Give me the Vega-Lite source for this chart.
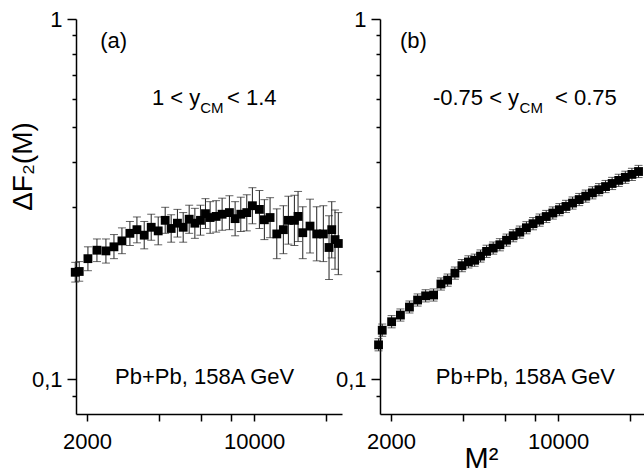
{
  "$schema": "https://vega.github.io/schema/vega-lite/v6.json",
  "padding": {"left": 9, "top": 8, "right": 0, "bottom": 0},
  "background": "white",
  "spacing": 38,
  "bounds": "flush",
  "datasets": {
    "a": [
      {"m2": 1787, "f": 0.198, "lo": 0.186, "hi": 0.211},
      {"m2": 1857, "f": 0.199, "lo": 0.187, "hi": 0.212},
      {"m2": 2019, "f": 0.216, "lo": 0.200, "hi": 0.233},
      {"m2": 2202, "f": 0.228, "lo": 0.212, "hi": 0.245},
      {"m2": 2401, "f": 0.227, "lo": 0.210, "hi": 0.245},
      {"m2": 2594, "f": 0.233, "lo": 0.216, "hi": 0.252},
      {"m2": 2801, "f": 0.242, "lo": 0.223, "hi": 0.263},
      {"m2": 3024, "f": 0.254, "lo": 0.235, "hi": 0.274},
      {"m2": 3236, "f": 0.260, "lo": 0.239, "hi": 0.282},
      {"m2": 3471, "f": 0.251, "lo": 0.230, "hi": 0.274},
      {"m2": 3713, "f": 0.264, "lo": 0.243, "hi": 0.287},
      {"m2": 3972, "f": 0.258, "lo": 0.236, "hi": 0.282},
      {"m2": 4247, "f": 0.276, "lo": 0.254, "hi": 0.300},
      {"m2": 4499, "f": 0.262, "lo": 0.240, "hi": 0.286},
      {"m2": 4779, "f": 0.271, "lo": 0.248, "hi": 0.296},
      {"m2": 5051, "f": 0.264, "lo": 0.240, "hi": 0.290},
      {"m2": 5351, "f": 0.278, "lo": 0.254, "hi": 0.304},
      {"m2": 5652, "f": 0.271, "lo": 0.246, "hi": 0.298},
      {"m2": 5965, "f": 0.276, "lo": 0.251, "hi": 0.304},
      {"m2": 6259, "f": 0.288, "lo": 0.262, "hi": 0.317},
      {"m2": 6547, "f": 0.281, "lo": 0.254, "hi": 0.311},
      {"m2": 6936, "f": 0.283, "lo": 0.256, "hi": 0.313},
      {"m2": 7348, "f": 0.287, "lo": 0.259, "hi": 0.318},
      {"m2": 7883, "f": 0.290, "lo": 0.260, "hi": 0.323},
      {"m2": 8327, "f": 0.279, "lo": 0.250, "hi": 0.311},
      {"m2": 8796, "f": 0.287, "lo": 0.257, "hi": 0.320},
      {"m2": 9318, "f": 0.290, "lo": 0.258, "hi": 0.325},
      {"m2": 9834, "f": 0.303, "lo": 0.270, "hi": 0.340},
      {"m2": 10520, "f": 0.296, "lo": 0.262, "hi": 0.334},
      {"m2": 11036, "f": 0.277, "lo": 0.244, "hi": 0.315},
      {"m2": 11658, "f": 0.281, "lo": 0.247, "hi": 0.319},
      {"m2": 12438, "f": 0.253, "lo": 0.216, "hi": 0.297},
      {"m2": 13251, "f": 0.260, "lo": 0.223, "hi": 0.303},
      {"m2": 13906, "f": 0.276, "lo": 0.237, "hi": 0.322},
      {"m2": 14732, "f": 0.276, "lo": 0.235, "hi": 0.324},
      {"m2": 15263, "f": 0.283, "lo": 0.241, "hi": 0.332},
      {"m2": 15971, "f": 0.255, "lo": 0.216, "hi": 0.301},
      {"m2": 17125, "f": 0.266, "lo": 0.224, "hi": 0.316},
      {"m2": 18267, "f": 0.253, "lo": 0.213, "hi": 0.301},
      {"m2": 19469, "f": 0.253, "lo": 0.212, "hi": 0.303},
      {"m2": 20566, "f": 0.232, "lo": 0.189, "hi": 0.284},
      {"m2": 21108, "f": 0.260, "lo": 0.217, "hi": 0.311},
      {"m2": 21786, "f": 0.244, "lo": 0.202, "hi": 0.295},
      {"m2": 22490, "f": 0.238, "lo": 0.195, "hi": 0.290}
    ],
    "b": [
      {"m2": 1775, "f": 0.1245, "lo": 0.1198, "hi": 0.1295},
      {"m2": 1839, "f": 0.1367, "lo": 0.1315, "hi": 0.1422},
      {"m2": 2013, "f": 0.1443, "lo": 0.1388, "hi": 0.1501},
      {"m2": 2191, "f": 0.1506, "lo": 0.1449, "hi": 0.1566},
      {"m2": 2390, "f": 0.1585, "lo": 0.1525, "hi": 0.1648},
      {"m2": 2585, "f": 0.1658, "lo": 0.1595, "hi": 0.1724},
      {"m2": 2793, "f": 0.1703, "lo": 0.1638, "hi": 0.1771},
      {"m2": 3015, "f": 0.1712, "lo": 0.1647, "hi": 0.1780},
      {"m2": 3236, "f": 0.1837, "lo": 0.1767, "hi": 0.1910},
      {"m2": 3451, "f": 0.1883, "lo": 0.1811, "hi": 0.1958},
      {"m2": 3702, "f": 0.1969, "lo": 0.1894, "hi": 0.2048},
      {"m2": 3960, "f": 0.2065, "lo": 0.1987, "hi": 0.2148},
      {"m2": 4216, "f": 0.2115, "lo": 0.2035, "hi": 0.2200},
      {"m2": 4477, "f": 0.2138, "lo": 0.2057, "hi": 0.2224},
      {"m2": 4738, "f": 0.2196, "lo": 0.2113, "hi": 0.2284},
      {"m2": 5022, "f": 0.2263, "lo": 0.2177, "hi": 0.2354},
      {"m2": 5351, "f": 0.2311, "lo": 0.2223, "hi": 0.2403},
      {"m2": 5707, "f": 0.2361, "lo": 0.2271, "hi": 0.2455},
      {"m2": 6086, "f": 0.2431, "lo": 0.2339, "hi": 0.2528},
      {"m2": 6487, "f": 0.2501, "lo": 0.2406, "hi": 0.2601},
      {"m2": 6915, "f": 0.2559, "lo": 0.2462, "hi": 0.2661},
      {"m2": 7369, "f": 0.2632, "lo": 0.2532, "hi": 0.2737},
      {"m2": 7853, "f": 0.2701, "lo": 0.2598, "hi": 0.2809},
      {"m2": 8367, "f": 0.2763, "lo": 0.2658, "hi": 0.2874},
      {"m2": 8917, "f": 0.2828, "lo": 0.2721, "hi": 0.2941},
      {"m2": 9500, "f": 0.2892, "lo": 0.2782, "hi": 0.3008},
      {"m2": 10124, "f": 0.2954, "lo": 0.2842, "hi": 0.3072},
      {"m2": 10785, "f": 0.3016, "lo": 0.2901, "hi": 0.3137},
      {"m2": 11489, "f": 0.3082, "lo": 0.2965, "hi": 0.3205},
      {"m2": 12247, "f": 0.3152, "lo": 0.3032, "hi": 0.3278},
      {"m2": 13047, "f": 0.3221, "lo": 0.3099, "hi": 0.3350},
      {"m2": 13906, "f": 0.3290, "lo": 0.3165, "hi": 0.3422},
      {"m2": 14816, "f": 0.3357, "lo": 0.3229, "hi": 0.3491},
      {"m2": 15785, "f": 0.3425, "lo": 0.3295, "hi": 0.3562},
      {"m2": 16817, "f": 0.3493, "lo": 0.3360, "hi": 0.3633},
      {"m2": 17920, "f": 0.3563, "lo": 0.3428, "hi": 0.3706},
      {"m2": 19095, "f": 0.3634, "lo": 0.3496, "hi": 0.3779},
      {"m2": 20348, "f": 0.3702, "lo": 0.3561, "hi": 0.3850},
      {"m2": 21684, "f": 0.3771, "lo": 0.3628, "hi": 0.3922}
    ],
    "ta_main": [
      {"m2": 2273, "f": 0.8294, "text": "(a)"},
      {"m2": 3738, "f": 0.5778, "text": "1 < y"},
      {"m2": 7700, "f": 0.5778, "text": "< 1.4"}
    ],
    "ta_sub": [{"m2": 5948, "f": 0.549, "text": "CM"}],
    "ta_note": [{"m2": 6211, "f": 0.0968, "text": "Pb+Pb, 158A GeV"}],
    "tb_main": [
      {"m2": 2181, "f": 0.8294, "text": "(b)"},
      {"m2": 2995, "f": 0.5778, "text": "-0.75 < y"},
      {"m2": 9700, "f": 0.5778, "text": "< 0.75"}
    ],
    "tb_sub": [{"m2": 6900, "f": 0.549, "text": "CM"}],
    "tb_note": [{"m2": 7292, "f": 0.0968, "text": "Pb+Pb, 158A GeV"}]
  },
  "hconcat": [
    {
      "width": 266,
      "height": 395,
      "layer": [
        {
          "data": {"name": "a"},
          "mark": {"type": "rule", "color": "#222222", "strokeWidth": 1, "clip": false},
          "encoding": {
            "x": {"field": "m2", "type": "quantitative",
              "scale": {"type": "log", "domain": [1800, 23300], "nice": false},
              "axis": {"values": [2000, 4000, 6000, 8000, 10000, 20000],
                "labelExpr": "datum.value == 2000 ? '2000' : (datum.value == 10000 ? '10000' : '')",
                "tickSize": 7, "labelPadding": 27, "labelBaseline": "alphabetic", "title": null}},
            "y": {"field": "lo", "type": "quantitative",
              "scale": {"type": "log", "domain": [0.08, 1], "nice": false},
              "axis": {"values": [0.09, 0.1, 0.2, 0.3, 0.4, 0.5, 0.6, 0.7, 0.8, 0.9, 1],
                "labelExpr": "datum.value == 1 ? '1' : (datum.value == 0.1 ? '0,1' : '')",
                "tickSize": {"condition": {"test": "datum.value == 1 || datum.value == 0.1", "value": 9}, "value": 4},
                "labelPadding": 5,
                "title": "ΔF₂(M)", "titleFontSize": 28, "titleX": -53, "titleY": 147,
                "titleAlign": "center", "titleBaseline": "middle", "titleAngle": 270}},
            "y2": {"field": "hi"}
          }
        },
        {
          "data": {"name": "a"},
          "mark": {"type": "tick", "orient": "horizontal", "size": 8, "thickness": 1, "color": "#222222", "clip": false},
          "encoding": {"x": {"field": "m2", "type": "quantitative"}, "y": {"field": "lo", "type": "quantitative"}}
        },
        {
          "data": {"name": "a"},
          "mark": {"type": "tick", "orient": "horizontal", "size": 8, "thickness": 1, "color": "#222222", "clip": false},
          "encoding": {"x": {"field": "m2", "type": "quantitative"}, "y": {"field": "hi", "type": "quantitative"}}
        },
        {
          "data": {"name": "a"},
          "mark": {"type": "point", "shape": "square", "filled": true, "size": 78, "color": "black", "opacity": 1, "clip": false},
          "encoding": {"x": {"field": "m2", "type": "quantitative"}, "y": {"field": "f", "type": "quantitative"}}
        },
        {
          "data": {"name": "ta_main"},
          "mark": {"type": "text", "fontSize": 22, "align": "left", "baseline": "alphabetic", "color": "black"},
          "encoding": {"x": {"field": "m2", "type": "quantitative"}, "y": {"field": "f", "type": "quantitative"}, "text": {"field": "text"}}
        },
        {
          "data": {"name": "ta_sub"},
          "mark": {"type": "text", "fontSize": 15, "align": "left", "baseline": "alphabetic", "color": "black"},
          "encoding": {"x": {"field": "m2", "type": "quantitative"}, "y": {"field": "f", "type": "quantitative"}, "text": {"field": "text"}}
        },
        {
          "data": {"name": "ta_note"},
          "mark": {"type": "text", "fontSize": 22, "align": "center", "baseline": "alphabetic", "color": "black"},
          "encoding": {"x": {"field": "m2", "type": "quantitative"}, "y": {"field": "f", "type": "quantitative"}, "text": {"field": "text"}}
        }
      ]
    },
    {
      "width": 266,
      "height": 395,
      "layer": [
        {
          "data": {"name": "b"},
          "mark": {"type": "rule", "color": "#222222", "strokeWidth": 1, "clip": false},
          "encoding": {
            "x": {"field": "m2", "type": "quantitative",
              "scale": {"type": "log", "domain": [1800, 23300], "nice": false},
              "axis": {"values": [2000, 4000, 6000, 8000, 10000, 20000],
                "labelExpr": "datum.value == 2000 ? '2000' : (datum.value == 10000 ? '10000' : '')",
                "tickSize": 7, "labelPadding": 27, "labelBaseline": "alphabetic",
                "title": "M²", "titleFontSize": 29, "titleX": 101, "titleY": 53,
                "titleAlign": "center", "titleBaseline": "alphabetic"}},
            "y": {"field": "lo", "type": "quantitative",
              "scale": {"type": "log", "domain": [0.08, 1], "nice": false},
              "axis": {"values": [0.09, 0.1, 0.2, 0.3, 0.4, 0.5, 0.6, 0.7, 0.8, 0.9, 1],
                "labelExpr": "datum.value == 1 ? '1' : (datum.value == 0.1 ? '0,1' : '')",
                "tickSize": {"condition": {"test": "datum.value == 1 || datum.value == 0.1", "value": 9}, "value": 4},
                "labelPadding": 5, "title": null}},
            "y2": {"field": "hi"}
          }
        },
        {
          "data": {"name": "b"},
          "mark": {"type": "tick", "orient": "horizontal", "size": 8, "thickness": 1, "color": "#222222", "clip": false},
          "encoding": {"x": {"field": "m2", "type": "quantitative"}, "y": {"field": "lo", "type": "quantitative"}}
        },
        {
          "data": {"name": "b"},
          "mark": {"type": "tick", "orient": "horizontal", "size": 8, "thickness": 1, "color": "#222222", "clip": false},
          "encoding": {"x": {"field": "m2", "type": "quantitative"}, "y": {"field": "hi", "type": "quantitative"}}
        },
        {
          "data": {"name": "b"},
          "mark": {"type": "point", "shape": "square", "filled": true, "size": 78, "color": "black", "opacity": 1, "clip": false},
          "encoding": {"x": {"field": "m2", "type": "quantitative"}, "y": {"field": "f", "type": "quantitative"}}
        },
        {
          "data": {"name": "tb_main"},
          "mark": {"type": "text", "fontSize": 22, "align": "left", "baseline": "alphabetic", "color": "black"},
          "encoding": {"x": {"field": "m2", "type": "quantitative"}, "y": {"field": "f", "type": "quantitative"}, "text": {"field": "text"}}
        },
        {
          "data": {"name": "tb_sub"},
          "mark": {"type": "text", "fontSize": 15, "align": "left", "baseline": "alphabetic", "color": "black"},
          "encoding": {"x": {"field": "m2", "type": "quantitative"}, "y": {"field": "f", "type": "quantitative"}, "text": {"field": "text"}}
        },
        {
          "data": {"name": "tb_note"},
          "mark": {"type": "text", "fontSize": 22, "align": "center", "baseline": "alphabetic", "color": "black"},
          "encoding": {"x": {"field": "m2", "type": "quantitative"}, "y": {"field": "f", "type": "quantitative"}, "text": {"field": "text"}}
        }
      ]
    }
  ],
  "config": {
    "font": "Liberation Sans",
    "view": {"stroke": null},
    "axis": {
      "grid": false,
      "domainColor": "black",
      "domainWidth": 1.5,
      "tickColor": "black",
      "tickWidth": 1.5,
      "labelFont": "Liberation Sans",
      "labelFontSize": 22,
      "labelColor": "black",
      "labelFlush": false,
      "labelOverlap": false,
      "titleFont": "Liberation Sans",
      "titleFontWeight": "normal",
      "titleColor": "black"
    }
  }
}
